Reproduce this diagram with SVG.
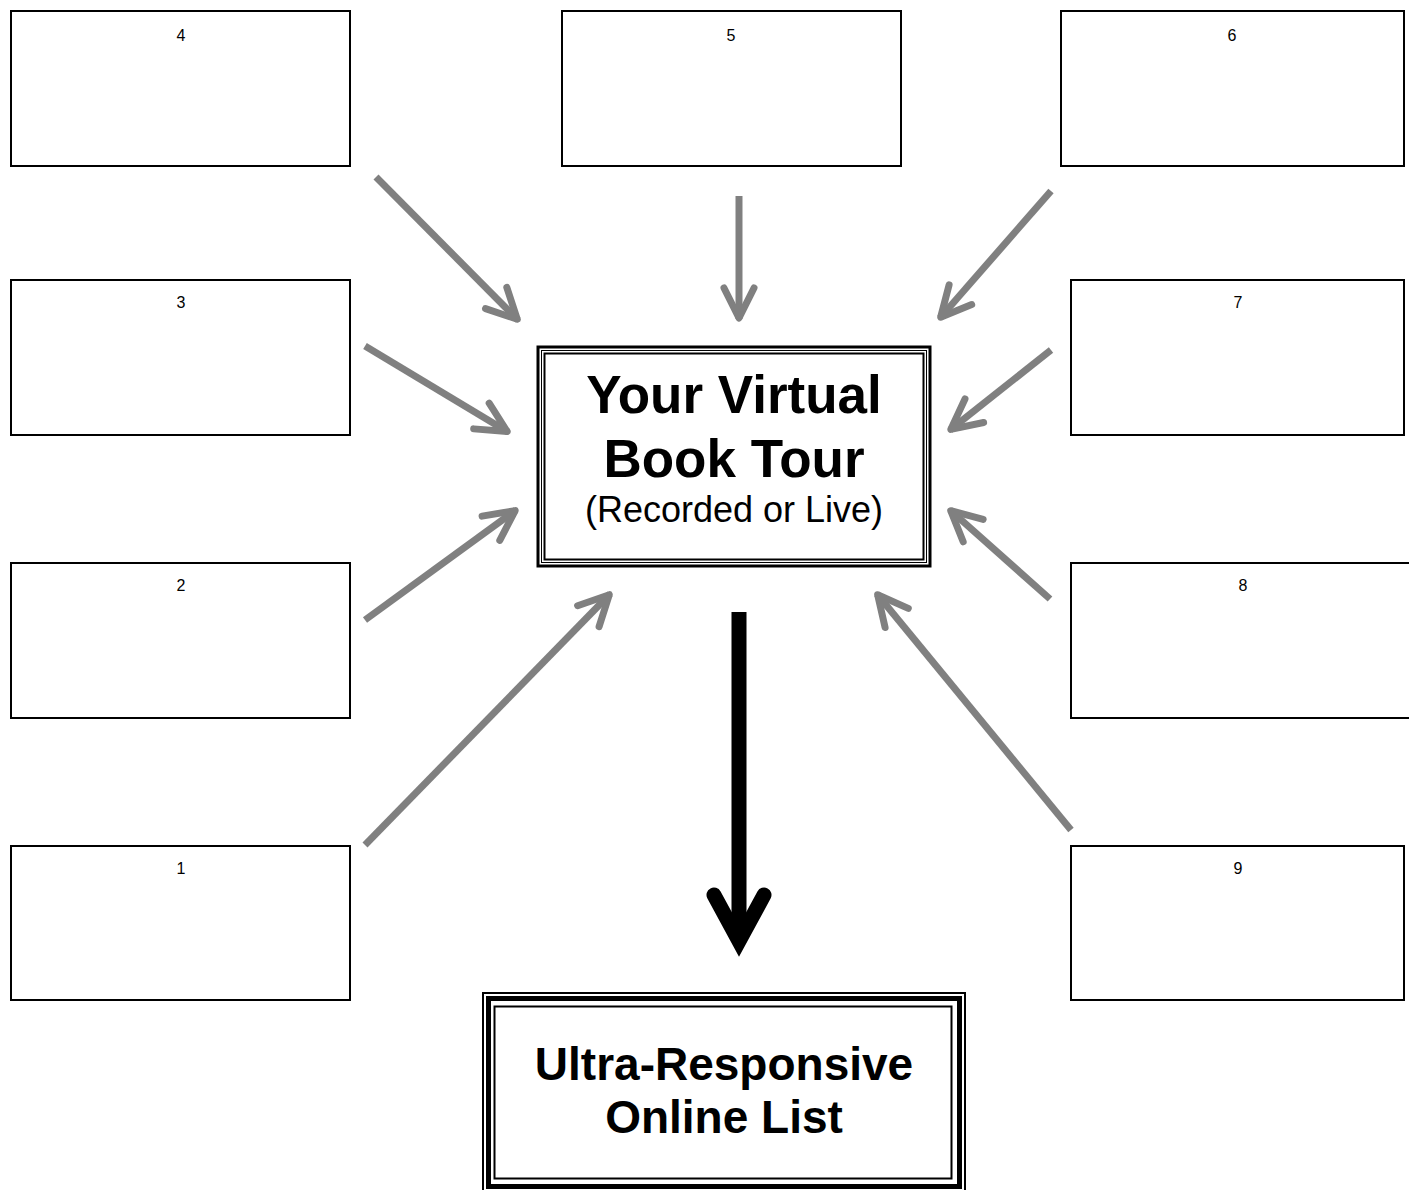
<svg xmlns="http://www.w3.org/2000/svg" width="1409" height="1190" viewBox="0 0 1409 1190">
<style>
.box{fill:#fff;stroke:#000;stroke-width:2}
.num{font-family:"Liberation Sans",Arial,sans-serif;font-size:16px;fill:#000;text-anchor:middle}
.ga{fill:none;stroke:#808080;stroke-width:7;stroke-linecap:butt}
.big{font-family:"Liberation Sans",Arial,sans-serif;font-weight:bold;fill:#000;text-anchor:middle}
.sub{font-family:"Liberation Sans",Arial,sans-serif;font-size:36px;fill:#000;text-anchor:middle}
</style>
<defs>
<marker id="gh" markerUnits="userSpaceOnUse" orient="auto" refX="0" refY="0" overflow="visible" markerWidth="1" markerHeight="1">
<path d="M-31,-15 L-1,0 L-31,15" fill="none" stroke="#808080" stroke-width="7" stroke-linecap="round" stroke-linejoin="round"/>
</marker>
</defs>
<rect width="1409" height="1190" fill="#fff"/>
<g id="node4"><rect class="box" x="11" y="11" width="339" height="155"/><text class="num" x="181" y="41">4</text></g>
<g id="node5"><rect class="box" x="562" y="11" width="339" height="155"/><text class="num" x="731" y="41">5</text></g>
<g id="node6"><rect class="box" x="1061" y="11" width="343" height="155"/><text class="num" x="1232" y="41">6</text></g>
<g id="node3"><rect class="box" x="11" y="280" width="339" height="155"/><text class="num" x="181" y="308">3</text></g>
<g id="node7"><rect class="box" x="1071" y="280" width="333" height="155"/><text class="num" x="1238" y="308">7</text></g>
<g id="node2"><rect class="box" x="11" y="563" width="339" height="155"/><text class="num" x="181" y="591">2</text></g>
<g id="node8"><rect class="box" x="1071" y="563" width="345" height="155"/><text class="num" x="1243" y="591">8</text></g>
<g id="node1"><rect class="box" x="11" y="846" width="339" height="154"/><text class="num" x="181" y="874">1</text></g>
<g id="node9"><rect class="box" x="1071" y="846" width="333" height="154"/><text class="num" x="1238" y="874">9</text></g>
<g id="center">
<rect x="538" y="347" width="392" height="219" fill="#fff" stroke="#000" stroke-width="3"/>
<rect x="541.5" y="350.5" width="385" height="212" fill="none" stroke="#000" stroke-width="1"/>
<rect x="544.5" y="353.5" width="379" height="206" fill="none" stroke="#000" stroke-width="2"/>
<text class="big" x="734" y="413" font-size="53">Your Virtual</text>
<text class="big" x="734" y="477" font-size="53">Book Tour</text>
<text class="sub" x="734" y="522">(Recorded or Live)</text>
</g>
<g id="result">
<rect x="483" y="993" width="482" height="210" fill="#fff" stroke="#000" stroke-width="2"/>
<rect x="488.5" y="998.5" width="471" height="188" fill="none" stroke="#000" stroke-width="5"/>
<rect x="494.5" y="1006.5" width="457" height="172" fill="none" stroke="#000" stroke-width="2"/>
<text class="big" x="724" y="1080" font-size="46">Ultra-Responsive</text>
<text class="big" x="724" y="1133" font-size="46">Online List</text>
</g>
<g id="connectors">
<line class="ga" x1="376" y1="177" x2="518" y2="320" marker-end="url(#gh)"/>
<line class="ga" x1="739" y1="196" x2="739" y2="319" marker-end="url(#gh)"/>
<line class="ga" x1="1051" y1="191" x2="940" y2="318" marker-end="url(#gh)"/>
<line class="ga" x1="365" y1="346" x2="508" y2="432" marker-end="url(#gh)"/>
<line class="ga" x1="1051" y1="350" x2="950" y2="430" marker-end="url(#gh)"/>
<line class="ga" x1="365" y1="620" x2="516" y2="510" marker-end="url(#gh)"/>
<line class="ga" x1="1050" y1="599" x2="950" y2="510" marker-end="url(#gh)"/>
<line class="ga" x1="365" y1="845" x2="610" y2="594" marker-end="url(#gh)"/>
<line class="ga" x1="1071" y1="830" x2="877" y2="594" marker-end="url(#gh)"/>
<line x1="739" y1="612" x2="739" y2="941" stroke="#000" stroke-width="15"/>
<path d="M714,895 L739,941 L764,895" fill="none" stroke="#000" stroke-width="15" stroke-linecap="round" stroke-linejoin="miter"/>
</g>
</svg>
